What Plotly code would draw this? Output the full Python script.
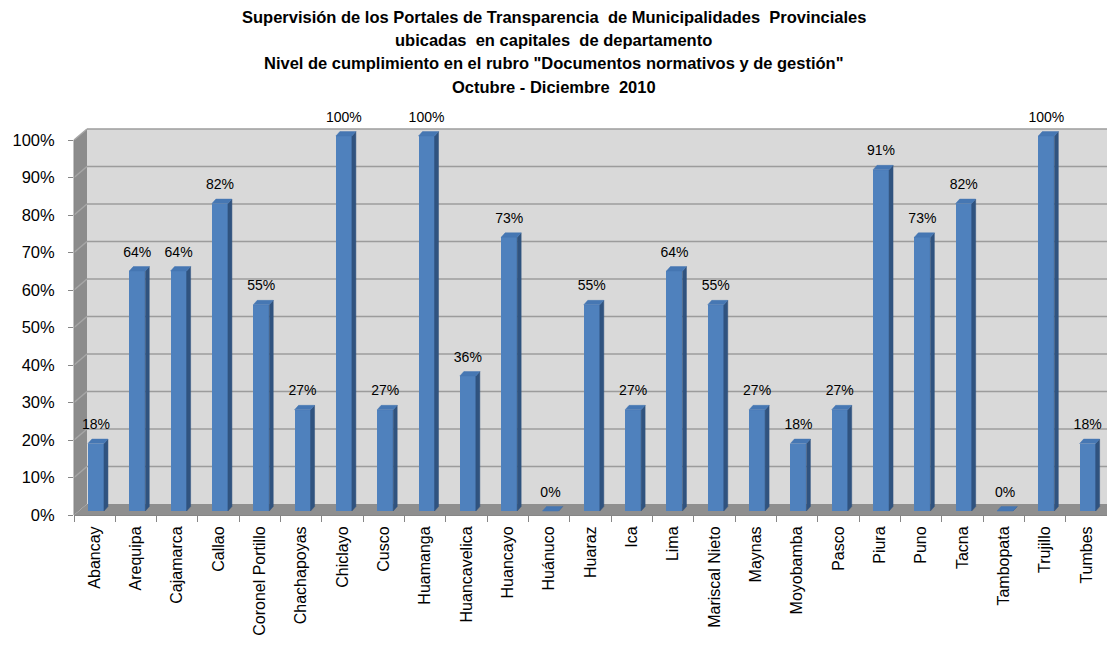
import plotly.graph_objects as go

# ---------------- data ----------------
categories = ["Abancay", "Arequipa", "Cajamarca", "Callao", "Coronel Portillo",
              "Chachapoyas", "Chiclayo", "Cusco", "Huamanga", "Huancavelica",
              "Huancayo", "Huánuco", "Huaraz", "Ica", "Lima", "Mariscal Nieto",
              "Maynas", "Moyobamba", "Pasco", "Piura", "Puno", "Tacna",
              "Tambopata", "Trujillo", "Tumbes"]
values = [18, 64, 64, 82, 55, 27, 100, 27, 100, 36, 73, 0, 55, 27, 64, 55,
          27, 18, 27, 91, 73, 82, 0, 100, 18]
y_ticks = [0, 10, 20, 30, 40, 50, 60, 70, 80, 90, 100]
y_tick_labels = ["0%", "10%", "20%", "30%", "40%", "50%", "60%", "70%", "80%", "90%", "100%"]
title_lines = [
    "Supervisión de los Portales de Transparencia  de Municipalidades  Provinciales",
    "ubicadas  en capitales  de departamento",
    "Nivel de cumplimiento en el rubro \"Documentos normativos y de gestión\"",
    "Octubre - Diciembre  2010",
]

# ---------------- layout geometry ----------------
W, H = 1107, 647
L, R, T, B = 74, 0, 100, 132
plotW, plotH = W - L - R, H - T - B
N = len(categories)
PXX = plotW / N                 # pixels per category
PXY = 375 / 100.0               # pixels per percent (0% at 515, 100% at 140)
YMAX = plotH / PXY              # y range top so that 100% sits at pixel 140
Y100 = 100 / YMAX               # paper y of 100 %

# wall depth (pixels) -> paper units
DX = 13 / plotW
DY = 11 / plotH
# bar geometry (pixels -> data units)
w = 16 / PXX
sx = 1.3 / PXX
base = 4 / PXY
ddx = 4 / PXX
ddy = 4.4 / PXY

FONT = "Liberation Sans"
AX = "#868686"

fig = go.Figure()

# front faces
fig.add_trace(go.Bar(
    x=list(range(N)), y=values, base=base, width=w, offset=-w / 2 + sx,
    marker=dict(color="#4f81bd", line=dict(width=0)), hoverinfo="skip",
    showlegend=False))

# side and top faces
side_x, side_y, top_x, top_y = [], [], [], []
for i, v in enumerate(values):
    xl = i - w / 2 + sx
    xr = xl + w
    yb = base
    yt = base + v
    side_x += [xr, xr, xr + ddx, xr + ddx, xr, None]
    side_y += [yb, yt, yt + ddy, yb + ddy, yb, None]
    top_x += [xl, xr, xr + ddx, xl + ddx, xl, None]
    top_y += [yt, yt, yt + ddy, yt + ddy, yt, None]

fig.add_trace(go.Scatter(x=side_x, y=side_y, mode="lines", fill="toself",
                         fillcolor="#30537f", line=dict(width=0.5, color="#30537f"),
                         hoverinfo="skip", showlegend=False))
fig.add_trace(go.Scatter(x=top_x, y=top_y, mode="lines", fill="toself",
                         fillcolor="#4677b3", line=dict(width=0.5, color="#4677b3"),
                         hoverinfo="skip", showlegend=False))

# value labels
fig.add_trace(go.Scatter(
    x=[i + sx for i in range(N)], y=[v + base + 18 / PXY for v in values],
    mode="text", text=[f"{v}%" for v in values], textposition="middle center",
    textfont=dict(family=FONT, size=14, color="#000000"),
    hoverinfo="skip", showlegend=False, xaxis="x2", yaxis="y", cliponaxis=False))

# ---------------- walls, floor, gridlines ----------------
shapes = []
XR = 1.05
shapes.append(dict(type="rect", xref="paper", yref="paper", x0=DX, x1=XR + DX,
                   y0=DY, y1=Y100 + DY, fillcolor="#d9d9d9", line=dict(width=0),
                   layer="below"))
shapes.append(dict(type="path", xref="paper", yref="paper",
                   path=f"M 0,0 L 0,{Y100} L {DX},{Y100 + DY} L {DX},{DY} Z",
                   fillcolor="#8c8c8c", line=dict(width=0), layer="below"))
shapes.append(dict(type="path", xref="paper", yref="paper",
                   path=f"M 0,0 L {XR},0 L {XR + DX},{DY} L {DX},{DY} Z",
                   fillcolor="#8f8f8f", line=dict(width=0), layer="below"))
for t in y_ticks[1:]:
    yv = t / YMAX
    shapes.append(dict(type="line", xref="paper", yref="paper", x0=0, y0=yv,
                       x1=DX, y1=yv + DY, line=dict(color="#a6a6a6", width=1.5),
                       layer="below"))
    shapes.append(dict(type="line", xref="paper", yref="paper", x0=DX, y0=yv + DY,
                       x1=XR + DX, y1=yv + DY, line=dict(color="#9c9c9c", width=1.5),
                       layer="below"))
# front vertical axis line
shapes.append(dict(type="line", xref="paper", yref="paper", x0=0, y0=0, x1=0,
                   y1=Y100, line=dict(color=AX, width=1), layer="above"))

# ---------------- title ----------------
annotations = []
title_y_px = [17, 40, 63, 87]
for line, ypx in zip(title_lines, title_y_px):
    annotations.append(dict(
        text=f"<b>{line}</b>", xref="paper", yref="paper",
        x=(W / 2 - L) / plotW, y=(H - B - ypx) / plotH,
        xanchor="center", yanchor="middle", showarrow=False,
        font=dict(family=FONT, size=16.5, color="#000000")))

fig.update_layout(
    width=W, height=H, autosize=False,
    margin=dict(l=L, r=R, t=T, b=B, pad=0),
    paper_bgcolor="white", plot_bgcolor="rgba(0,0,0,0)",
    shapes=shapes, annotations=annotations, showlegend=False,
    bargap=0,
    xaxis=dict(range=[-0.5, N - 0.5], tickmode="array", tickvals=list(range(N)),
               ticktext=categories, tickangle=-90, ticks="", showgrid=False,
               zeroline=False, showline=True, linecolor=AX, linewidth=1,
               ticklabelstandoff=4,
               tickfont=dict(family=FONT, size=16, color="#000000"),
               fixedrange=True),
    xaxis2=dict(range=[-0.5, N - 0.5], overlaying="x", anchor="y", side="bottom",
                tickmode="array", tickvals=[i - 0.5 for i in range(N + 1)],
                ticks="outside", ticklen=6, tickcolor=AX, showticklabels=False,
                showgrid=False, zeroline=False, showline=False, fixedrange=True),
    yaxis=dict(range=[0, YMAX], tickmode="array", tickvals=y_ticks,
               ticktext=y_tick_labels, ticks="outside", ticklen=5, tickcolor=AX,
               showline=False, showgrid=False, ticklabelstandoff=10,
               zeroline=False, tickfont=dict(family=FONT, size=16.5, color="#000000"),
               fixedrange=True),
)

fig.write_html("out.html", config={"displayModeBar": False},
               post_script="document.body.style.margin='0px';")
